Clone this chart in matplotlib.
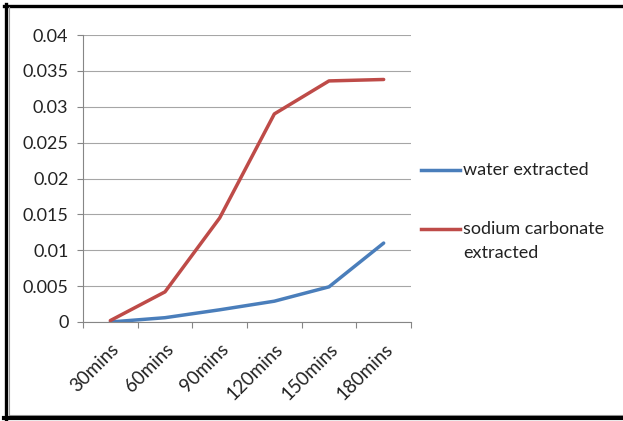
import matplotlib
matplotlib.use("Agg")
from matplotlib import pyplot as plt
from matplotlib.lines import Line2D
import numpy as np

categories = ["30mins", "60mins", "90mins", "120mins", "150mins", "180mins"]
water = [0.0, 0.0006, 0.0017, 0.0029, 0.0049, 0.011]
sodium = [0.0002, 0.0042, 0.0145, 0.029, 0.0336, 0.0338]
y_ticks = [0, 0.005, 0.01, 0.015, 0.02, 0.025, 0.03, 0.035, 0.04]
y_labels = ["0", "0.005", "0.01", "0.015", "0.02", "0.025", "0.03", "0.035", "0.04"]

W, H = 623, 421
plt.rcParams['font.family'] = ['Lato', 'DejaVu Sans']
fs = 13
txt = "#222222"

fig = plt.figure(figsize=(W / 100, H / 100), dpi=100)
ax = fig.add_axes([83 / W, 1 - 322 / H, (411 - 83) / W, (322 - 35) / H])

blue = "#4a7ebb"
red = "#be4b48"
x = np.arange(len(categories))
ax.plot(x, water, color=blue, lw=2.5, solid_capstyle="round")
ax.plot(x, sodium, color=red, lw=2.5, solid_capstyle="round")

ax.set_xlim(-0.5, len(categories) - 0.5)
ax.set_ylim(0, 0.04)
ax.set_yticks(y_ticks)
ax.set_yticklabels(y_labels, fontsize=fs, color=txt)
ax.yaxis.grid(True, color="#a6a6a6", lw=0.8)
ax.set_axisbelow(True)

ax.set_xticks(x)
ax.set_xticklabels(categories, rotation=45, ha="right", va="top",
                   rotation_mode="anchor", fontsize=13.5, color=txt)
ax.tick_params(axis="x", which="major", length=0, pad=13)
ax.set_xticks(np.arange(-0.5, len(categories)), minor=True)
ax.tick_params(axis="x", which="minor", length=4.5, color="#868686", width=0.8)
ax.tick_params(axis="y", length=4.5, color="#868686", width=0.8, pad=6)

for s in ["top", "right"]:
    ax.spines[s].set_visible(False)
for s in ["left", "bottom"]:
    ax.spines[s].set_color("#868686")
    ax.spines[s].set_linewidth(0.8)

# legend drawn by hand so the line sits beside the first text row
def fx(px):
    return px / W

def fy(py):
    return 1 - py / H

fig.add_artist(Line2D([fx(421), fx(460)], [fy(170), fy(170)], color=blue, lw=2.5))
fig.text(fx(463), fy(170), "water extracted", fontsize=fs, va="center", color=txt)
fig.add_artist(Line2D([fx(421), fx(460)], [fy(229), fy(229)], color=red, lw=2.5))
fig.text(fx(463), fy(229), "sodium carbonate", fontsize=fs, va="center", color=txt)
fig.text(fx(463), fy(253), "extracted", fontsize=fs, va="center", color=txt)

# outer frame
fig.add_artist(Line2D([fx(4), fx(623)], [fy(5.5), fy(5.5)], color="black", lw=2.4))
fig.add_artist(Line2D([fx(5.5), fx(5.5)], [fy(4), fy(421)], color="black", lw=2.4))
fig.add_artist(Line2D([fx(8.5), fx(8.5)], [fy(7), fy(414)], color="#9a9a9a", lw=0.8))
fig.add_artist(Line2D([fx(8.5), fx(623)], [fy(414.5), fy(414.5)], color="#9a9a9a", lw=0.8))
fig.add_artist(Line2D([fx(4), fx(623)], [fy(418), fy(418)], color="black", lw=3))

fig.savefig("out.png", dpi=100)
